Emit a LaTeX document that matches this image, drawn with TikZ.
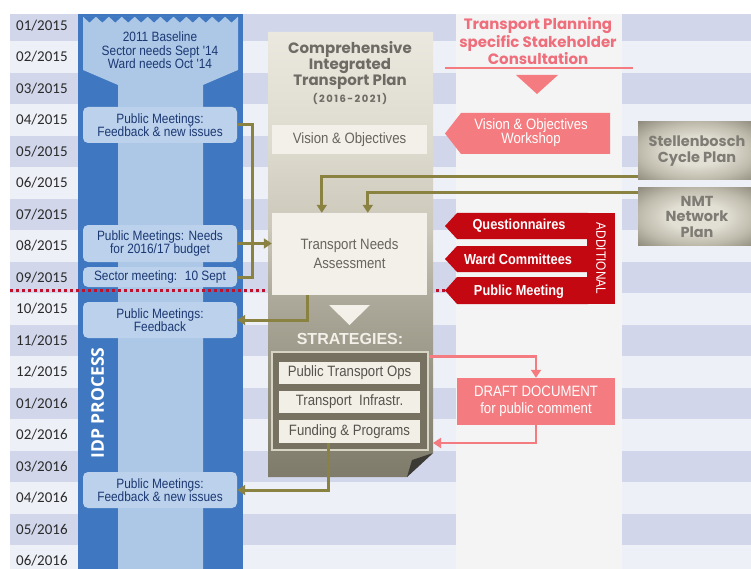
\documentclass[tikz,border=0pt]{standalone}
\usepackage{fontspec}
\setmainfont{Carlito}
\newfontfamily\cond[FakeStretch=0.88]{Liberation Sans}
\newfontfamily\geo{Poppins}
\newfontfamily\opensans{Open Sans}
\newfontfamily\arialf{Liberation Sans}
\usetikzlibrary{arrows.meta}

% palette
\definecolor{stripeA}{HTML}{D1D6EA}
\definecolor{stripeB}{HTML}{EDF0F7}
\definecolor{datetext}{HTML}{2A2A2A}
\definecolor{idpdark}{HTML}{3F78C1}
\definecolor{idplight}{HTML}{ADC7E7}
\definecolor{idpboxfill}{HTML}{BBD1EC}
\definecolor{idptext}{HTML}{1B3872}
\definecolor{palecol}{HTML}{F4F4F4}
\definecolor{oliveline}{HTML}{8A8240}
\definecolor{pinkfill}{HTML}{F47C80}
\definecolor{pinktext}{HTML}{EF6E7B}
\definecolor{redfill}{HTML}{C40812}
\definecolor{reddot}{HTML}{C0102C}
\definecolor{citptitle}{HTML}{6D6B64}
\definecolor{cardfill}{HTML}{F2F0E9}
\definecolor{cardtext}{HTML}{67645C}
\definecolor{framefill}{HTML}{767161}
\definecolor{frameline}{HTML}{D8D4C4}
\definecolor{stratfill}{HTML}{F1EFE6}
\definecolor{strattext}{HTML}{55534C}
\definecolor{folddark}{HTML}{3C3A34}
\definecolor{platetext}{HTML}{7E7C74}
\definecolor{cA}{HTML}{EBE8DF}
\definecolor{cB}{HTML}{DCD9CD}
\definecolor{cC}{HTML}{CBC7B9}
\definecolor{cD}{HTML}{ADA99A}
\definecolor{cE}{HTML}{928E7E}
\definecolor{cF}{HTML}{7F7B6B}
\definecolor{platel}{HTML}{E2DFD4}
\definecolor{platem}{HTML}{BDB9AA}
\definecolor{plated}{HTML}{8E8A7B}

\pgfdeclareverticalshading{citpshade}{100bp}{color(0bp)=(cF); color(25bp)=(cF); color(33.65bp)=(cE); color(44.9bp)=(cD); color(52.75bp)=(cC); color(61.7bp)=(cB); color(75bp)=(cA); color(100bp)=(cA)}
\pgfdeclareradialshading{plateshade}{\pgfpoint{0bp}{0bp}}{color(0bp)=(platel); color(12bp)=(platel); color(25bp)=(platem); color(36bp)=(plated); color(50bp)=(plated)}

\tikzset{
  datelab/.style={anchor=west, inner sep=0pt, text=datetext, font=\fontsize{15}{16}\selectfont},
  idpcard/.style={fill=idpboxfill, rounded corners=5pt, minimum width=154pt, inner sep=0pt, text=idptext, align=center, font=\cond\fontsize{13.5}{13}\selectfont},
  card/.style={fill=cardfill, minimum width=155pt, inner sep=0pt, text=cardtext, align=center, font=\cond\fontsize{15}{19}\selectfont},
  stratcard/.style={fill=stratfill, minimum width=141pt, inner sep=0pt, text=strattext, font=\cond\fontsize{15}{17}\selectfont},
  oline/.style={draw=oliveline, line width=3pt},
  oarrow/.style={oline, -{Triangle[width=10pt,length=8pt]}},
  parrow/.style={draw=pinkfill, line width=2.5pt, -{Triangle[width=10pt,length=8pt]}},
  whitelab/.style={text=white, inner sep=0pt, align=center},
  redlab/.style={whitelab, font=\cond\bfseries\fontsize{14.5}{15}\selectfont},
  plate/.style={shading=plateshade, minimum width=118pt, inner sep=0pt, text=platetext, align=center, font=\geo\bfseries\fontsize{14.5}{15.5}\selectfont},
}

\begin{document}
\begin{tikzpicture}[x=1pt,y=-1pt]
\useasboundingbox (0,0) rectangle (751,569);
\clip (0,0) rectangle (751,569);
\fill[white] (0,0) rectangle (751,569);

% month stripes
\foreach \i in {0,2,...,16}
  \fill[stripeA] (10,9.75+31.5*\i) rectangle (751,41.25+31.5*\i);
\foreach \i in {1,3,...,17}
  \fill[stripeB] (10,9.75+31.5*\i) rectangle (751,41.25+31.5*\i);
\fill[white] (0,0) rectangle (751,14);

% stakeholder consultation lane
\node[fill=palecol, minimum width=166pt, minimum height=555pt, inner sep=0pt] (conscol) at (539,291.5) {};

% month labels
\foreach \d [count=\i from 0] in {01/2015,02/2015,03/2015,04/2015,05/2015,06/2015,07/2015,08/2015,09/2015,10/2015,11/2015,12/2015,01/2016,02/2016,03/2016,04/2016,05/2016,06/2016}
  \node[datelab] (date\i) at (16,25.5+31.5*\i) {\d};

% IDP process lane
\node[fill=idpdark, minimum width=165pt, minimum height=555pt, inner sep=0pt] (idp) at (160.5,291.5) {};
\fill[idplight] (83,17) -- (238,17) -- (238,70) -- (203,85) -- (203,570) -- (118,570) -- (118,85) -- (83,70) -- cycle;
\foreach \k in {0,...,11}
  \fill[idpdark] (83+\k*12.917,16.5) -- (83+\k*12.917+12.917,16.5) -- (83+\k*12.917+6.458,22.5) -- cycle;
\node[text=idptext, align=center, inner sep=0pt, font=\cond\fontsize{13.5}{13.5}\selectfont] (base) at (160,50.5) {2011 Baseline\\Sector needs Sept '14\\Ward needs Oct '14};
\node[idpcard, minimum height=36pt] (b1) at (160,125) {Public Meetings:\\Feedback \& new issues};
\node[idpcard, minimum height=37pt] (b2) at (160,243.5) {Public Meetings: Needs\\for 2016/17 budget};
\node[idpcard, minimum height=20pt] (b3) at (160,277) {Sector meeting:~ 10 Sept};
\node[idpcard, minimum height=36pt] (b4) at (160,320) {Public Meetings:\\Feedback};
\node[idpcard, minimum height=36pt] (b5) at (160,490) {Public Meetings:\\Feedback \& new issues};
\node[rotate=90, text=white, inner sep=0pt, font=\opensans\bfseries\fontsize{17.5}{18}\selectfont] (idplab) at (97.5,403) {IDP PROCESS};

% budget cut-off line
\coordinate (pmtip) at (445,290.5);
\draw[reddot, line width=2.5pt, dash pattern=on 3pt off 3pt] (10,290.5) -- (pmtip);

% CITP column
\path[shading=citpshade] (268,32) -- (433,32) -- (433,453) -- (407,477) -- (268,477) -- cycle;
\fill[folddark] (407,477) -- (433,453) -- (412,460) -- cycle;
\node[text=citptitle, align=center, inner sep=0pt, font=\geo\bfseries\fontsize{15}{16.3}\selectfont] (citp) at (350,65.5) {Comprehensive\\Integrated\\Transport Plan};
\node[text=citptitle, inner sep=0pt, font=\geo\bfseries\fontsize{10}{12}\selectfont\addfontfeature{LetterSpace=15}] (yrs) at (350,99) {(2016-2021)};
\node[card, minimum height=29pt] (vo) at (349.5,139.5) {Vision \& Objectives};
\node[card, minimum height=82pt] (tna) at (349.5,254) {Transport Needs\\Assessment};
\fill[cardfill] (329,305) -- (370,305) -- (349.5,325) -- cycle;
\node[text=cardfill, inner sep=0pt, font=\arialf\bfseries\fontsize{16}{16}\selectfont] (strat) at (350,339) {STRATEGIES:};
\node[draw=frameline, line width=1.5pt, fill=framefill, minimum width=156pt, minimum height=98pt, inner sep=0pt] (sf) at (350,401) {};
\node[stratcard, minimum height=22pt] (s1) at (349.5,373) {Public Transport Ops};
\node[stratcard, minimum height=22pt] (s2) at (349.5,402) {Transport~ Infrastr.};
\node[stratcard, minimum height=23pt] (s3) at (349.5,431.5) {Funding \& Programs};

% consultation lane content
\node[text=pinktext, align=center, inner sep=0pt, font=\geo\bfseries\fontsize{15}{16}\selectfont] (cons) at (538,41) {Transport Planning\\specific Stakeholder\\Consultation};
\draw[pinkfill, line width=2.5pt] (445,68) -- (633,68);
\fill[pinkfill] (516,75) -- (558,75) -- (537,94) -- cycle;
\fill[pinkfill] (445,133.5) -- (461,113) -- (610,113) -- (610,154) -- (461,154) -- cycle;
\node[whitelab, font=\cond\fontsize{15}{14}\selectfont] (vow) at (531,133) {Vision \& Objectives\\Workshop};

% additional participation
\fill[redfill] (587,213) rectangle (615,304);
\fill[redfill] (445,226) -- (457,213) -- (588,213) -- (588,239) -- (457,239) -- cycle;
\fill[redfill] (445,259) -- (457,246) -- (588,246) -- (588,272) -- (457,272) -- cycle;
\fill[redfill] (pmtip) -- (457,277) -- (588,277) -- (588,304) -- (457,304) -- cycle;
\node[redlab] (tq) at (519,226) {Questionnaires};
\node[redlab] (tw) at (518,259) {Ward Committees};
\node[redlab] (tp) at (519,291.5) {Public Meeting};
\node[rotate=-90, whitelab, font=\cond\fontsize{13.5}{14}\selectfont] (addl) at (601,258.5) {ADDITIONAL};

% draft document
\node[fill=pinkfill, minimum width=158pt, minimum height=47pt, whitelab, font=\cond\fontsize{15}{17}\selectfont] (draft) at (536,401.5) {DRAFT DOCUMENT\\for public comment};

% related plans
\node[plate, minimum height=58pt] (sc) at (697,151) {Stellenbosch\\Cycle Plan};
\node[plate, minimum height=57pt] (nmt) at (697,216.5) {NMT\\Network\\Plan};

% connectors
\coordinate (jx) at (252,0);
\draw[oline] (b1.east) -| (b3.east -| jx) -- (b3.east);
\draw[oarrow] (b2.east) -- (b2.east -| tna.west);
\draw[oarrow] ([yshift=4pt]sc.south west) -| ([xshift=50pt]tna.north west);
\draw[oarrow] ([yshift=-5pt]nmt.north west) -| ([xshift=96pt]tna.north west);
\draw[oarrow] ([xshift=36pt]tna.south west) |- (b4.east);
\draw[oarrow] ([xshift=50pt]s3.south west) |- (b5.east);
\coordinate (coledge) at (433,443);
\draw[parrow] ([yshift=-5pt]sf.north east) -| (draft.north);
\draw[parrow] (draft.south) |- (coledge);
\end{tikzpicture}
\end{document}
